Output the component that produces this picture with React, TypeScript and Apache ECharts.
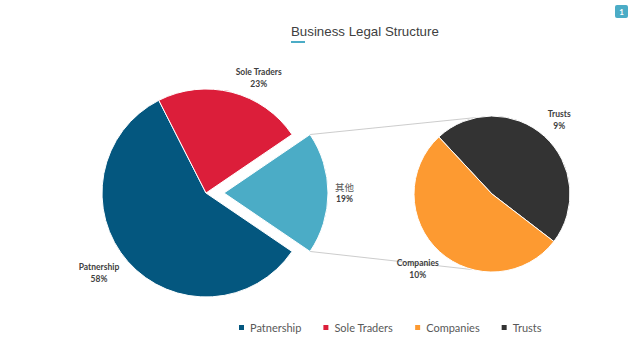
import React, { useEffect, useRef } from "react";
import * as echarts from "echarts";

// ---- Data ----
const mainNames = ["其他", "Patnership", "Sole Traders"];
const mainValues = [19, 58, 23];
const subNames = ["Trusts", "Companies"];
const subValues = [9, 10];
const legendNames = ["Patnership", "Sole Traders", "Companies", "Trusts"];
const titleText = "Business Legal Structure";

// ---- Styles / layout ----
const COLORS: Record<string, string> = {
  "其他": "#4bacc6",
  Patnership: "#04577f",
  "Sole Traders": "#dc1e3a",
  Companies: "#fd9a31",
  Trusts: "#333333",
};
const MAIN_C = [206, 193];
const MAIN_R = 104;
const OFFSET = 18;
const SUB_C = [492, 194];
const SUB_R = 78;
const MAIN_START = 34.2;
const SUB_START = 133;
const LABEL_COLOR = "#404040";
const FONT = "Lato, 'Open Sans', sans-serif";

export default function App() {
  const ref = useRef<HTMLDivElement>(null);
  useEffect(() => {
    document.body.style.margin = "0";
    const chart = echarts.init(ref.current!, null, { renderer: "svg" });

    const total = mainValues.reduce((a, b) => a + b, 0);
    const otherIdx = mainNames.indexOf("其他");
    const half = ((mainValues[otherIdx] / total) * 360) / 2;
    const rad = (d: number) => (d * Math.PI) / 180;
    const ex = MAIN_C[0] + OFFSET;
    const ey = MAIN_C[1];
    const p1 = [ex + MAIN_R * Math.cos(rad(half)), ey - MAIN_R * Math.sin(rad(half))];
    const p2 = [ex + MAIN_R * Math.cos(rad(half)), ey + MAIN_R * Math.sin(rad(half))];
    const q1 = [SUB_C[0] + SUB_R * Math.cos(rad(101)), SUB_C[1] - SUB_R * Math.sin(rad(101))];
    const q2 = [SUB_C[0] + SUB_R * Math.cos(rad(256)), SUB_C[1] - SUB_R * Math.sin(rad(256))];

    const labelRich = {
      n: { align: "center", fontWeight: "bold", fontSize: 8.5, color: LABEL_COLOR, fontFamily: FONT, lineHeight: 12 },
      c: { align: "center", fontWeight: "normal", fontSize: 9.5, color: "#595959", fontFamily: "'Noto Sans CJK SC'", lineHeight: 12 },
    };
    const fmt = (p: any) =>
      (/[\u4e00-\u9fff]/.test(p.name) ? `{c|${p.name}}` : `{n|${p.name}}`) + `\n{n|${p.value}%}`;

    const mainLen: Record<string, number> = { "其他": 7, Patnership: 17, "Sole Traders": 15 };
    const subLen: Record<string, number> = { Trusts: 22, Companies: 22 };

    chart.setOption({
      animation: false,
      title: {
        text: titleText,
        left: 291,
        top: 25,
        padding: 0,
        textStyle: { fontSize: 13.3, fontWeight: "normal", color: "#404040", fontFamily: "'Liberation Sans', Arial, sans-serif" },
      },
      legend: {
        data: legendNames,
        left: 237,
        top: 322,
        padding: 0,
        icon: "rect",
        itemWidth: 7,
        itemHeight: 7,
        itemGap: 20,
        textStyle: { fontSize: 11, color: "#595959", fontFamily: FONT },
      },
      graphic: [
        { type: "rect", shape: { x: 291, y: 41, width: 14, height: 2 }, style: { fill: "#4bacc6" } },
        { type: "rect", shape: { x: 615, y: 5, width: 13, height: 13, r: 2 }, style: { fill: "#4bacc6" } },
        { type: "text", x: 621.5, y: 11.5, style: { text: "1", fill: "#fff", fontSize: 8, fontWeight: "bold", align: "center", verticalAlign: "middle", fontFamily: FONT } },
        { type: "line", shape: { x1: p1[0], y1: p1[1], x2: q1[0], y2: q1[1] }, style: { stroke: "#bfbfbf", lineWidth: 0.8 } },
        { type: "line", shape: { x1: p2[0], y1: p2[1], x2: q2[0], y2: q2[1] }, style: { stroke: "#bfbfbf", lineWidth: 0.8 } },
      ],
      series: [
        {
          type: "pie",
          center: MAIN_C,
          radius: MAIN_R,
          startAngle: MAIN_START,
          clockwise: true,
          selectedMode: "single",
          selectedOffset: OFFSET,
          avoidLabelOverlap: false,
          itemStyle: { borderColor: "#fff", borderWidth: 1 },
          label: { position: "outside", formatter: fmt, rich: labelRich, distanceToLabelLine: 0 },
          labelLine: { show: false, length2: 0 },
          labelLayout: (p: any) => (p.dataIndex === 1 ? { dx: 4 } : {}),
          emphasis: { disabled: true },
          data: mainNames.map((n, i) => ({
            name: n,
            value: mainValues[i],
            selected: n === "其他",
            itemStyle: { color: COLORS[n] },
            labelLine: { show: false, length: mainLen[n], length2: 0 },
          })),
        },
        {
          type: "pie",
          center: SUB_C,
          radius: SUB_R,
          startAngle: SUB_START,
          clockwise: true,
          avoidLabelOverlap: false,
          itemStyle: { borderColor: "#fff", borderWidth: 1 },
          label: { position: "outside", formatter: fmt, rich: labelRich, distanceToLabelLine: 0 },
          labelLine: { show: false, length2: 0 },
          labelLayout: (p: any) => (p.dataIndex === 1 ? { align: "center", dx: -7, dy: 1 } : { align: "center" }),
          emphasis: { disabled: true },
          data: subNames.map((n, i) => ({
            name: n,
            value: subValues[i],
            itemStyle: { color: COLORS[n] },
            labelLine: { show: false, length: subLen[n], length2: 0 },
          })),
        },
      ],
    });
    return () => chart.dispose();
  }, []);
  return <div ref={ref} style={{ width: 640, height: 360 }} />;
}
